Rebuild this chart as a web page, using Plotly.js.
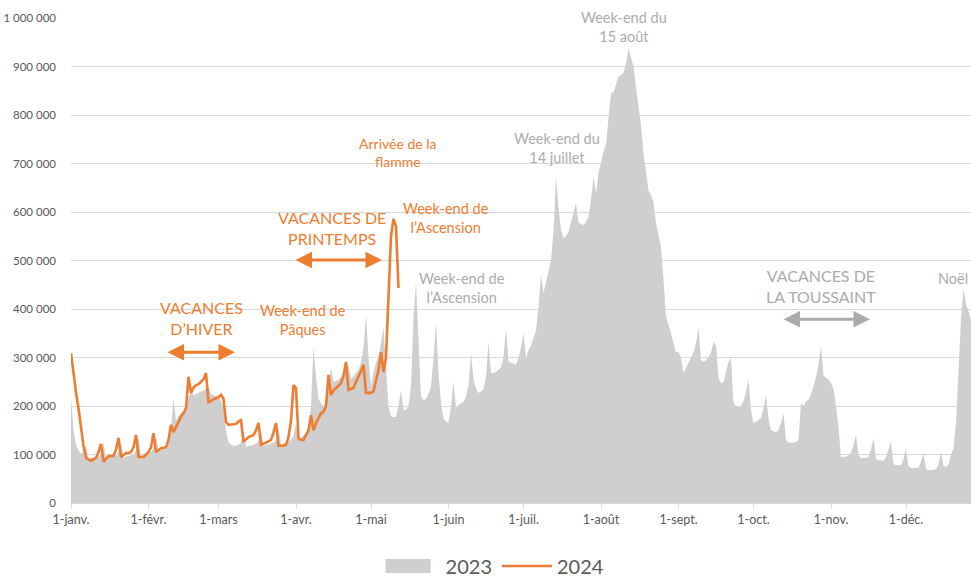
<!DOCTYPE html>
<html>
<head>
<meta charset="utf-8">
<script src="https://cdn.plot.ly/plotly-3.0.1.min.js"></script>
<style>
  html, body { margin: 0; padding: 0; background: #ffffff; }
  #chart { width: 971px; height: 582px; }
</style>
</head>
<body>
<div id="chart"></div>
<script>
// Day-of-year index (0 = 1 January) and daily values, in thousands
const monthTickDays = [0, 31, 59, 90, 120, 151, 181, 212, 243, 273, 304, 334];
const monthTickLabels = ['1-janv.', '1-févr.', '1-mars', '1-avr.', '1-mai', '1-juin', '1-juil.', '1-août', '1-sept.', '1-oct.', '1-nov.', '1-déc.'];
const yTickValues = [0, 100, 200, 300, 400, 500, 600, 700, 800, 900, 1000];
const yTickLabels = ['0', '100 000', '200 000', '300 000', '400 000', '500 000', '600 000', '700 000', '800 000', '900 000', '1 000 000'];

const values2023 = [
  218,150,120,108,102,105,118,
  92,93,95,95,96,102,125,
  90,95,96,97,98,105,128,
  93,96,97,98,100,108,135,
  97,100,102,103,105,112,140,
  105,110,112,118,125,150,216,
  170,180,185,190,200,215,232,
  222,225,228,230,232,235,240,
  225,222,220,218,210,195,150,
  126,120,118,118,120,125,145,
  115,118,118,120,122,128,150,
  118,120,120,122,125,130,155,
  120,122,125,128,130,138,165,
  130,135,140,145,150,200,322,
  260,215,205,200,210,240,280,
  250,252,254,260,270,275,285,
  255,262,268,274,290,320,388,
  300,240,270,290,301,330,363,
  280,198,180,177,178,200,233,
  192,192,200,239,384,454,350,
  219,212,215,225,239,300,373,
  268,206,175,168,165,200,250,
  196,202,205,208,220,243,309,
  254,235,227,230,235,260,332,
  268,268,270,275,280,300,361,
  291,289,287,285,299,320,350,
  299,315,325,340,355,404,470,
  433,454,475,500,560,672,610,
  563,546,550,559,580,600,618,
  579,575,573,580,590,625,672,
  639,680,705,725,740,790,845,
  847,865,880,882,887,905,938,
  920,900,856,820,780,720,680,
  645,635,620,577,550,528,460,
  384,368,350,330,311,312,300,
  268,280,289,300,311,330,361,
  295,291,295,301,310,332,326,
  258,247,249,270,291,299,206,
  200,198,200,210,230,254,190,
  165,168,171,175,195,223,175,
  150,148,146,150,165,185,130,
  124,124,124,126,130,206,200,
  210,213,225,240,260,285,324,
  262,258,254,248,235,200,155,
  95,95,96,98,103,120,140,
  98,93,93,93,95,110,134,
  90,88,87,87,95,112,126,
  80,78,78,78,90,113,76,
  72,72,72,73,85,103,70,
  68,68,68,70,80,105,76,
  74,80,100,112,165,280,380,
  443,410,395,377
];

const values2024 = [
  309,262,228,195,158,118,93,
  90,87,90,93,105,122,85,
  92,97,97,97,110,134,95,
  100,103,103,105,115,140,95,
  95,95,100,105,115,144,105,
  110,113,114,115,130,161,146,
  155,167,178,185,195,260,227,
  238,243,245,250,255,268,208,
  210,214,216,218,223,215,167,
  161,162,162,163,168,171,126,
  132,136,138,140,150,165,120,
  122,124,127,130,145,165,118,
  118,118,120,136,170,243,237,
  134,130,130,140,150,181,150,
  165,175,185,188,200,264,223,
  232,237,242,247,262,291,233,
  235,237,250,260,272,285,227,
  227,227,230,255,274,311,270,
  300,440,550,586,570,443
];

const days2023 = values2023.map((_, i) => i);
const days2024 = values2024.map((_, i) => i);

const ORANGE = '#ED7D31';
const GREYTXT = '#ABABAB';
const GREYARROW = '#AEAAAA';
const FONT = 'Lato, "Open Sans", sans-serif';

const traces = [
  {
    x: days2023, y: values2023, name: '2023', type: 'scatter', mode: 'lines',
    fill: 'tozeroy', fillcolor: '#D0CECE', line: { width: 0, color: '#D0CECE' },
    hoverinfo: 'skip'
  },
  {
    x: days2024, y: values2024, name: '2024', type: 'scatter', mode: 'lines',
    line: { width: 2.6, color: ORANGE }, hoverinfo: 'skip'
  }
];

function label(text, x, y, color, size) {
  return { text: text, x: x, y: y, xref: 'x', yref: 'y', showarrow: false,
           font: { family: FONT, size: size, color: color }, align: 'center',
           xanchor: 'center', yanchor: 'middle' };
}
function dblArrow(x0, x1, y, color) {
  return { text: '', x: x1, y: y, ax: x0, ay: y, xref: 'x', yref: 'y', axref: 'x', ayref: 'y',
           showarrow: true, arrowside: 'end+start', arrowhead: 2, arrowsize: 1.1,
           arrowwidth: 3, arrowcolor: color, standoff: 0, startstandoff: 0 };
}

const annotations = [
  label('VACANCES<br>D’HIVER', 52, 381, ORANGE, 16),
  dblArrow(38, 65.6, 311, ORANGE),
  label('Week-end de<br>Pâques', 92.8, 377, ORANGE, 14.5),
  label('VACANCES DE<br>PRINTEMPS', 104.4, 567, ORANGE, 16),
  dblArrow(89.2, 124.4, 501, ORANGE),
  label('Arrivée de la<br>flamme', 130.8, 722, ORANGE, 14),
  label('Week-end de<br>l’Ascension', 150, 588, ORANGE, 14.5),
  label('Week-end de<br>l’Ascension', 156.4, 443, GREYTXT, 14.5),
  label('Week-end du<br>14 juillet', 194.4, 732, GREYTXT, 14.5),
  label('Week-end du<br>15 août', 221.2, 981, GREYTXT, 14.5),
  label('VACANCES DE<br>LA TOUSSAINT', 300, 447, GREYTXT, 16),
  dblArrow(284.4, 319.6, 379, GREYARROW),
  { text: 'Noël', x: 359.6, y: 462, xref: 'x', yref: 'y', showarrow: false,
    xanchor: 'right', yanchor: 'middle', font: { family: FONT, size: 14.5, color: GREYTXT } }
];

const layout = {
  width: 971, height: 582,
  margin: { l: 71, r: 0, t: 18, b: 79, autoexpand: false },
  paper_bgcolor: '#ffffff', plot_bgcolor: '#ffffff',
  font: { family: FONT, color: '#595959' },
  showlegend: true,
  legend: { orientation: 'h', x: 0.474, xanchor: 'center', y: -0.13, yanchor: 'middle',
            font: { family: FONT, size: 20, color: '#595959' }, itemwidth: 50 },
  xaxis: {
    range: [0, 360], tickmode: 'array', tickvals: monthTickDays, ticktext: monthTickLabels,
    showgrid: false, zeroline: false, showline: true, linecolor: '#D9D9D9', linewidth: 1,
    ticks: 'outside', ticklen: 5, tickcolor: '#D9D9D9', automargin: false,
    tickfont: { family: FONT, size: 12.5, color: '#595959' }, fixedrange: true
  },
  yaxis: {
    range: [0, 1000], tickmode: 'array', tickvals: yTickValues, ticktext: yTickLabels,
    showgrid: true, gridcolor: '#D9D9D9', gridwidth: 1, zeroline: false, showline: false,
    ticks: '', ticklabelstandoff: 14, automargin: false,
    tickfont: { family: FONT, size: 11.5, color: '#595959' }, fixedrange: true
  },
  annotations: annotations
};

Plotly.newPlot('chart', traces, layout, { displayModeBar: false, staticPlot: true }).then(function (gd) {
  // enlarge the area swatch in the legend to a filled box like the reference
  gd.querySelectorAll('.legendfill path').forEach(function (p) {
    p.setAttribute('d', 'M-5,-7h50v14h-50z');
  });
});
</script>
</body>
</html>
